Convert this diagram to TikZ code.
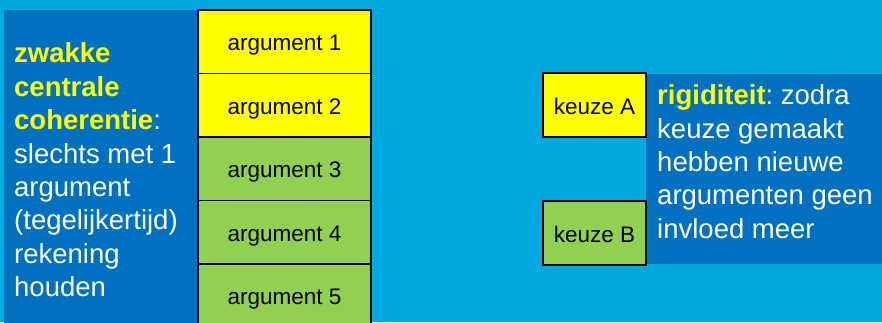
\documentclass[tikz,border=0pt]{standalone}
\usepackage{fontspec}
\setmainfont{Liberation Sans}
\usetikzlibrary{positioning}

\definecolor{lichtblauw}{RGB}{0,169,224}
\definecolor{donkerblauw}{RGB}{0,112,192}
\definecolor{geel}{RGB}{255,255,0}
\definecolor{groen}{RGB}{146,208,80}

\newcommand{\markeer}[1]{\textcolor{geel}{\textbf{#1}}}
\frenchspacing

\begin{document}
\begin{tikzpicture}[x=1pt,y=1pt,
  vak/.style={draw=black,line width=1.2pt,outer sep=0pt,inner sep=0pt,
    text height=18pt,text depth=0pt,font=\fontsize{22.5}{24}\selectfont},
  arg/.style={vak,minimum width=173pt,minimum height=63.5pt},
  keuze/.style={vak,minimum width=103pt,minimum height=64pt},
  uitleg/.style={text=white,align=left,inner sep=0pt,anchor=base west,
    font=\fontsize{27.5}{33.4}\selectfont}]

\fill[lichtblauw] (0,0) rectangle (882,-322);
\useasboundingbox (0,0) rectangle (882,-322);
\clip (0,0) rectangle (882,-322);

% dark panels behind the text
\fill[donkerblauw] (4,-10) rectangle (198,-330);
\fill[donkerblauw] (646,-74) rectangle (890,-264);

% stack of arguments
\node[arg,fill=geel,anchor=north west] (arg1) at (198,-10) {argument 1};
\node[arg,fill=geel,below=0pt of arg1] (arg2) {argument 2};
\node[arg,fill=groen,below=0pt of arg2] (arg3) {argument 3};
\node[arg,fill=groen,below=0pt of arg3] (arg4) {argument 4};
\node[arg,fill=groen,below=0pt of arg4] (arg5) {argument 5};

% the two choices
\node[keuze,fill=geel,anchor=north west] (keuzeA) at (543,-73) {keuze A};
\node[keuze,fill=groen,below=64pt of keuzeA] (keuzeB) {keuze B};

% base anchor sits on the last line
\node[uitleg] (zwak) at (14,-296.7) {\markeer{zwakke}\\
  \markeer{centrale}\\
  \markeer{coherentie}:\\
  slechts met 1\\
  argument\\
  (tegelijkertijd)\\
  rekening\\
  houden};

\node[uitleg] (rigide) at (657,-238.3) {\markeer{rigiditeit}: zodra\\
  keuze gemaakt\\
  hebben nieuwe\\
  argumenten geen\\
  invloed meer};

\end{tikzpicture}
\end{document}
